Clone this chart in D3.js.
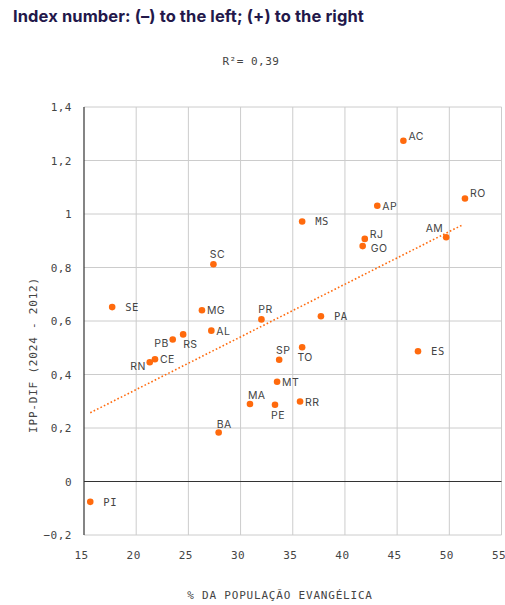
<!DOCTYPE html>
<html>
<head>
<meta charset="utf-8">
<script src="https://cdn.jsdelivr.net/npm/d3@7"></script>
<style>
  html, body { margin: 0; padding: 0; background: #fff; }
  svg { display: block; }
</style>
</head>
<body>
<svg id="chart" width="505" height="605"></svg>
<script>
// ---- data ----
const states = ["AC","RO","AP","MS","AM","RJ","GO","SC","SE","MG","PR","PA","AL","RS","PB","CE","RN","TO","SP","ES","MT","MA","PE","RR","BA","PI"];
const evangelical = [45.6,51.5,43.1,35.9,49.7,41.9,41.7,27.4,17.7,26.3,32.0,37.7,27.2,24.5,23.5,21.8,21.3,35.9,33.7,47.0,33.5,30.9,33.3,35.7,27.9,15.6];
const ippDif = [1.274,1.058,1.031,0.972,0.913,0.907,0.880,0.812,0.652,0.640,0.606,0.618,0.564,0.550,0.531,0.457,0.446,0.502,0.455,0.487,0.373,0.290,0.287,0.299,0.183,-0.076];
const labelPos = ["ru","ru","r","far","al","ru","rd","a","far","r","a","far","r","br","bl","r","bl","b","a","far","r","ar","b","r","ar","far"];
const trendX = [15.6, 51.3];
const trendY = [0.257, 0.960];
const xTicks = [15,20,25,30,35,40,45,50,55];
const yTicks = [-0.2,0,0.2,0.4,0.6,0.8,1,1.2,1.4];
const titleText = "Index number: (–) to the left; (+) to the right";
const r2Text = "R²= 0,39";
const xTitle = "% DA POPULAÇÃO EVANGÉLICA";
const yTitle = "IPP-DIF (2024 - 2012)";

(function () {
const svg = d3.select("#chart");
const mL = 84, mR = 501.5, mT = 107, mB = 535;
const x = d3.scaleLinear().domain([15,55]).range([mL, mR]);
const y = d3.scaleLinear().domain([-0.2,1.4]).range([mB, mT]);
const mono = "'DejaVu Sans Mono', 'Liberation Mono', monospace";
const sans = "Inter, 'Noto Sans', sans-serif";
const orange = "#ff6a0d";
const txt = "#444";

svg.append("text").attr("x", 13).attr("y", 22)
  .attr("font-family", sans).attr("font-weight", 700).attr("font-size", 16.5)
  .attr("letter-spacing", 0.1)
  .attr("fill", "#23184a").text(titleText);

svg.append("text").attr("x", 251).attr("y", 65).attr("text-anchor", "middle")
  .attr("font-family", mono).attr("font-size", 11).attr("letter-spacing", 0.5)
  .attr("fill", txt).text(r2Text);

const g = svg.append("g");
g.selectAll("line.hy").data(yTicks.filter(d => d !== 0)).join("line")
  .attr("x1", mL).attr("x2", mR)
  .attr("y1", d => y(d)).attr("y2", d => y(d))
  .attr("stroke", "#cccccc").attr("stroke-width", 1);
g.selectAll("line.vx").data(xTicks.slice(1)).join("line")
  .attr("x1", d => x(d)).attr("x2", d => x(d))
  .attr("y1", mT).attr("y2", mB)
  .attr("stroke", "#cccccc").attr("stroke-width", 1);

g.append("line").attr("x1", mL).attr("x2", mR).attr("y1", y(0)).attr("y2", y(0))
  .attr("stroke", "#333").attr("stroke-width", 1.2);
g.append("line").attr("x1", mL).attr("x2", mL).attr("y1", mT).attr("y2", mB)
  .attr("stroke", "#333").attr("stroke-width", 1.2);

const yAxis = d3.axisLeft(y).tickValues(yTicks).tickSize(0).tickPadding(12)
  .tickFormat(d => (Math.round(d*10)/10).toString().replace(".", ",").replace("-", "−"));
const ya = svg.append("g").attr("transform", `translate(${mL},0)`).call(yAxis);
ya.select(".domain").remove();
ya.selectAll("text").attr("font-family", mono).attr("font-size", 11)
  .attr("letter-spacing", 0.5).attr("fill", txt);

const xAxis = d3.axisBottom(x).tickValues(xTicks).tickSize(0).tickPadding(16)
  .tickFormat(d => d.toString());
const xa = svg.append("g").attr("transform", `translate(-3,${mB})`).call(xAxis);
xa.select(".domain").remove();
xa.selectAll("text").attr("font-family", mono).attr("font-size", 11)
  .attr("letter-spacing", 0.5).attr("fill", txt);

svg.append("text").attr("x", 280).attr("y", 599).attr("text-anchor", "middle")
  .attr("font-family", mono).attr("font-size", 11).attr("letter-spacing", 0.8)
  .attr("fill", txt).text(xTitle);
svg.append("text").attr("transform", "translate(37,355) rotate(-90)")
  .attr("text-anchor", "middle")
  .attr("font-family", mono).attr("font-size", 11).attr("letter-spacing", 0.8)
  .attr("fill", txt).text(yTitle);

svg.append("line")
  .attr("x1", x(trendX[0])).attr("y1", y(trendY[0]))
  .attr("x2", x(trendX[1])).attr("y2", y(trendY[1]))
  .attr("stroke", orange).attr("stroke-width", 1.6)
  .attr("stroke-dasharray", "1.6,2.2");

const data = states.map((s, i) => ({ s, xv: evangelical[i], yv: ippDif[i], p: labelPos[i] }));
svg.selectAll("circle.pt").data(data).join("circle")
  .attr("cx", d => x(d.xv)).attr("cy", d => y(d.yv)).attr("r", 3.3)
  .attr("fill", orange);

const lab = svg.selectAll("text.lb").data(data).join("text")
  .attr("font-size", 10.5).attr("fill", txt)
  .attr("font-family", d => d.p === "far" ? mono : sans)
  .attr("letter-spacing", d => d.p === "far" ? 0.6 : 0.4)
  .text(d => d.s);
lab.each(function(d) {
  const px = x(d.xv), py = y(d.yv);
  let ax = px, ay = py, anchor = "start";
  switch (d.p) {
    case "r":  ax = px + 5;  ay = py + 4; break;
    case "rd": ax = px + 8;  ay = py + 5.5; break;
    case "ru": ax = px + 5;  ay = py - 1; break;
    case "far": ax = px + 13; ay = py + 4; break;
    case "a":  ax = px + 4;  ay = py - 6; anchor = "middle"; break;
    case "ar": ax = px - 2;  ay = py - 5; break;
    case "al": ax = px - 3;  ay = py - 5; anchor = "end"; break;
    case "b":  ax = px + 3;  ay = py + 14; anchor = "middle"; break;
    case "br": ax = px;      ay = py + 14; break;
    case "bl": ax = px - 4;  ay = py + 8; anchor = "end"; break;
  }
  d3.select(this).attr("x", ax).attr("y", ay).attr("text-anchor", anchor);
});
})();
</script>
</body>
</html>
